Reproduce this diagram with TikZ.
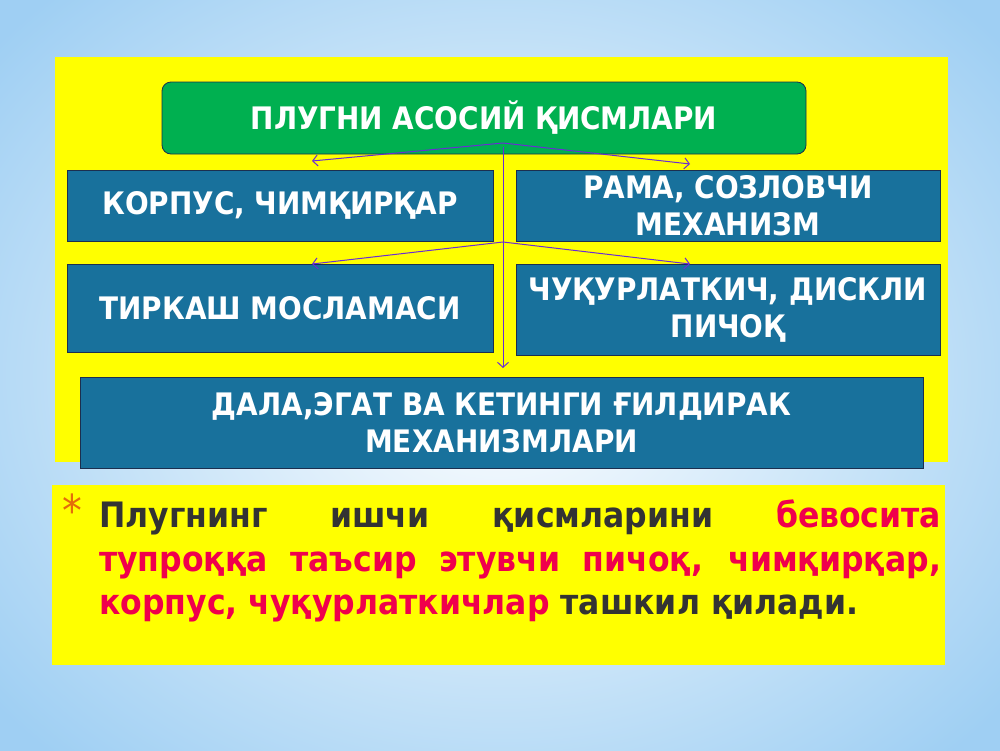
\documentclass[tikz,border=0pt]{standalone}
\usepackage{fontspec}
\setmainfont{DejaVu Sans Condensed}
\usepackage{xcolor}
\usetikzlibrary{arrows.meta,positioning}

\definecolor{slideblue}{HTML}{9FCFF3}
\definecolor{panelyellow}{HTML}{FFFF00}
\definecolor{headgreen}{HTML}{00B050}
\definecolor{partblue}{HTML}{18719C}
\definecolor{edgenavy}{HTML}{1B2F4F}
\definecolor{linkviolet}{HTML}{6A2BD6}
\definecolor{accentred}{HTML}{F0004C}
\definecolor{starorange}{HTML}{E46C0A}
\definecolor{bodygray}{HTML}{333333}

\tikzset{
	>={Straight Barb[length=5pt,width=11pt]},
	headbox/.style={
		rectangle,
		rounded corners=9pt,
		fill=headgreen,
		draw=edgenavy, thick,
		text=white,
		align=center,
		font={\fontsize{31}{37}\selectfont\bfseries}
	},
	partbox/.style={
		rectangle,
		fill=partblue,
		draw=edgenavy, thick,
		text=white,
		align=center,
		inner sep=0pt,
		font={\fontsize{31}{37}\selectfont\bfseries}
	},
	link/.style={draw=linkviolet, line width=1pt, ->},
	panel/.style={fill=panelyellow, draw=none},
}

\begin{document}
\begin{tikzpicture}[x=1pt,y=-1pt]
	\useasboundingbox (0,0) rectangle (1000,750);
	\shade[inner color=white, outer color=slideblue] (-150,-150) rectangle (1150,900);
	\fill[panel] (55,57) rectangle (948,462);
	\fill[panel] (52,485) rectangle (945,665);

	% main parts
	\node[headbox, minimum width=644pt, minimum height=72pt] (head) at (484,118) {ПЛУГНИ АСОСИЙ ҚИСМЛАРИ};
	\node[partbox, minimum width=426pt, minimum height=71pt] (korpus) at (280,205.5) {КОРПУС, ЧИМҚИРҚАР};
	\node[partbox, minimum width=424pt, minimum height=71pt] (rama) at (728,205.5) {РАМА, СОЗЛОВЧИ\\МЕХАНИЗМ};
	\node[partbox, minimum width=426pt, minimum height=88pt] (tirkash) at (280,308) {ТИРКАШ МОСЛАМАСИ};
	\node[partbox, minimum width=424pt, minimum height=91pt] (chuqur) at (728,309.5) {ЧУҚУРЛАТКИЧ, ДИСКЛИ\\ПИЧОҚ};
	\node[partbox, minimum width=843pt, minimum height=91pt] (dala) at (501.5,422.5) {ДАЛА,ЭГАТ ВА КЕТИНГИ ҒИЛДИРАК\\МЕХАНИЗМЛАРИ};

	\coordinate (hubA) at (503,143);
	\coordinate (hubB) at (503,242);
	\coordinate (stem) at (503,147);
	\coordinate (stemend) at (503,368);
	\coordinate (tipA) at (312,161);
	\coordinate (tipB) at (690,164);
	\coordinate (tipC) at (312,264);
	\coordinate (tipD) at (690,264);

	\foreach \from/\to in {hubA/tipA,hubA/tipB,hubB/tipC,hubB/tipD,stem/stemend}
		\draw[link] (\from) -- (\to);

	% note below
	\node[text=starorange, font={\fontsize{44}{44}\selectfont}] (star) at (72,510) {*};
	\node[anchor=north west, text width=842pt, align=justify, inner sep=0pt,
		font={\fontsize{35}{43.5}\selectfont\bfseries}, text=bodygray] (note) at (99,500)
		{Плугнинг ишчи қисмларини \textcolor{accentred}{бевосита}\linebreak
		\textcolor{accentred}{тупроққа таъсир этувчи пичоқ, чимқирқар,}\linebreak
		\textcolor{accentred}{корпус, чуқурлаткичлар} ташкил қилади.};
\end{tikzpicture}
\end{document}
